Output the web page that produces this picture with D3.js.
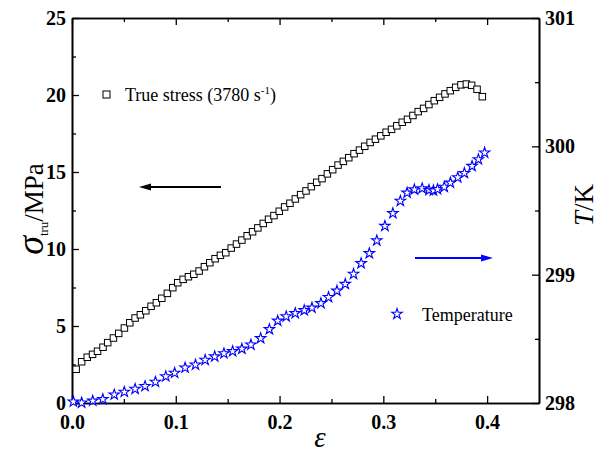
<!DOCTYPE html>
<html><head><meta charset="utf-8">
<script src="https://cdn.jsdelivr.net/npm/d3@7/dist/d3.min.js"></script>
<style>body{margin:0;background:#fff}svg{display:block}</style></head>
<body><svg id="c" width="602" height="454"></svg>
<script>
// True stress (squares)
const strain = [0.004,0.0093,0.0147,0.0198,0.0246,0.0299,0.0344,0.0399,0.045,0.0505,0.0557,0.0608,0.0659,0.0711,0.0762,0.0813,0.0865,0.0919,0.0971,0.1019,0.1071,0.1122,0.1174,0.1225,0.1276,0.1328,0.1379,0.143,0.1482,0.1534,0.1585,0.1637,0.1688,0.174,0.1791,0.1843,0.1894,0.1946,0.1997,0.2049,0.21,0.2152,0.2203,0.2255,0.2306,0.2358,0.2409,0.2461,0.2512,0.2564,0.2615,0.2667,0.2718,0.277,0.2821,0.2873,0.2924,0.2976,0.3027,0.3079,0.313,0.3182,0.3233,0.3285,0.3336,0.3388,0.3439,0.3491,0.3542,0.3594,0.3645,0.3697,0.3748,0.38,0.3851,0.3903,0.3954];
const stress = [2.19,2.68,2.97,3.16,3.36,3.62,3.92,4.22,4.52,4.87,5.21,5.52,5.73,5.99,6.28,6.51,6.8,7.12,7.49,7.81,8.03,8.2,8.36,8.57,8.85,9.11,9.37,9.59,9.76,10.06,10.32,10.58,10.86,11.12,11.37,11.66,11.93,12.17,12.45,12.73,12.97,13.25,13.53,13.77,14.05,14.33,14.57,14.88,15.15,15.45,15.69,15.93,16.19,16.42,16.67,16.92,17.13,17.35,17.58,17.77,18.0,18.23,18.42,18.67,18.92,19.13,19.38,19.63,19.85,20.07,20.28,20.5,20.66,20.71,20.63,20.37,19.89];
// Temperature (stars)
const tStrain = [0.0013,0.0093,0.02,0.0297,0.0407,0.0504,0.0608,0.0704,0.0804,0.0904,0.0989,0.109,0.119,0.1283,0.1375,0.1464,0.1548,0.1637,0.1724,0.1818,0.1902,0.1982,0.2064,0.2151,0.2238,0.2312,0.2399,0.2472,0.2553,0.2633,0.2713,0.2786,0.2865,0.2937,0.3015,0.3092,0.3164,0.3229,0.3299,0.3374,0.344,0.3483,0.3522,0.3587,0.3646,0.3717,0.3781,0.3855,0.3916,0.3976];
const temperature = [298.01,298.002,298.017,298.029,298.065,298.086,298.109,298.131,298.164,298.207,298.234,298.275,298.298,298.335,298.362,298.386,298.403,298.422,298.454,298.504,298.574,298.64,298.674,298.699,298.722,298.742,298.777,298.824,298.874,298.927,299.005,299.088,299.166,299.266,299.379,299.478,299.574,299.638,299.663,299.672,299.659,299.655,299.665,299.683,299.716,299.757,299.791,299.846,299.898,299.95];
const xTicks = [0,0.1,0.2,0.3,0.4];
const xMinor = [0.05,0.15,0.25,0.35];
const yTicks = [0,5,10,15,20,25];
const yMinor = [2.5,7.5,12.5,17.5,22.5];
const y2Ticks = [298,299,300,301];
const y2Minor = [298.5,299.5,300.5];

const L=72,R=539,T=18,B=403;
const svg=d3.select('#c');
const x=d3.scaleLinear().domain([0,0.45]).range([L,R]);
const y=d3.scaleLinear().domain([0,25]).range([B,T]);
const y2=d3.scaleLinear().domain([298,301]).range([B,T]);
const font='"Liberation Serif","Times New Roman",serif';

function styleAxis(g){
  g.selectAll('path').attr('stroke','#000').attr('stroke-width',1.6);
  g.selectAll('line').attr('stroke','#000').attr('stroke-width',1.3);
  g.selectAll('text').attr('font-family',font).attr('font-weight','bold').attr('font-size',20).attr('fill','#000');
}
// bottom
svg.append('g').attr('transform',`translate(0,${B})`).call(d3.axisBottom(x).tickValues(xMinor).tickFormat('').tickSize(-4).tickSizeOuter(0)).call(styleAxis);
svg.append('g').attr('transform',`translate(0,${B})`).call(d3.axisBottom(x).tickValues(xTicks).tickFormat(d3.format('.1f')).tickSize(-7).tickSizeOuter(0).tickPadding(12)).call(styleAxis);
// top
svg.append('g').attr('transform',`translate(0,${T})`).call(d3.axisTop(x).tickValues(xMinor).tickFormat('').tickSize(-4).tickSizeOuter(0)).call(styleAxis);
svg.append('g').attr('transform',`translate(0,${T})`).call(d3.axisTop(x).tickValues(xTicks).tickFormat('').tickSize(-7).tickSizeOuter(0)).call(styleAxis);
// left
svg.append('g').attr('transform',`translate(${L},0)`).call(d3.axisLeft(y).tickValues(yMinor).tickFormat('').tickSize(-4).tickSizeOuter(0)).call(styleAxis);
svg.append('g').attr('transform',`translate(${L},0)`).call(d3.axisLeft(y).tickValues(yTicks).tickFormat(d3.format('d')).tickSize(-7).tickSizeOuter(0).tickPadding(6)).call(styleAxis);
// right
svg.append('g').attr('transform',`translate(${R},0)`).call(d3.axisRight(y2).tickValues(y2Minor).tickFormat('').tickSize(-4).tickSizeOuter(0)).call(styleAxis);
svg.append('g').attr('transform',`translate(${R},0)`).call(d3.axisRight(y2).tickValues(y2Ticks).tickFormat(d3.format('d')).tickSize(-7).tickSizeOuter(0).tickPadding(6)).call(styleAxis);

// squares
const sq=6.5;
svg.append('g').selectAll('rect').data(strain).join('rect')
  .attr('x',(d,i)=>x(d)-sq/2).attr('y',(d,i)=>y(stress[i])-sq/2)
  .attr('width',sq).attr('height',sq).attr('fill','#fff').attr('stroke','#000').attr('stroke-width',1);
// stars
const star=d3.symbol().type(d3.symbolStar).size(34);
svg.append('g').selectAll('path').data(tStrain).join('path')
  .attr('transform',(d,i)=>`translate(${x(d)},${y2(temperature[i])})`)
  .attr('d',star).attr('fill','#fff').attr('stroke','#0000ff').attr('stroke-width',1.1);

// legends
svg.append('rect').attr('x',103).attr('y',91).attr('width',7).attr('height',7).attr('fill','#fff').attr('stroke','#000').attr('stroke-width',1);
const lt=svg.append('text').attr('x',125).attr('y',101).attr('font-family',font).attr('font-size',18).attr('fill','#000');
lt.append('tspan').text('True stress (3780 s');
lt.append('tspan').attr('font-size',11).attr('dy',-7).text('-1');
lt.append('tspan').attr('dy',7).text(')');
svg.append('path').attr('transform','translate(397,314)').attr('d',star).attr('fill','#fff').attr('stroke','#0000ff').attr('stroke-width',1.1);
svg.append('text').attr('x',422).attr('y',321).attr('font-family',font).attr('font-size',18).attr('fill','#000').text('Temperature');

// arrows
svg.append('line').attr('x1',221).attr('y1',187).attr('x2',148).attr('y2',187).attr('stroke','#000').attr('stroke-width',2);
svg.append('path').attr('d','M139,187 L151,183.5 L151,190.5 Z').attr('fill','#000');
svg.append('line').attr('x1',415).attr('y1',258).attr('x2',484).attr('y2',258).attr('stroke','#0000ff').attr('stroke-width',2);
svg.append('path').attr('d','M493,258 L481,254.5 L481,261.5 Z').attr('fill','#0000ff');

// axis titles
const yt=svg.append('text').attr('transform','translate(43,209) rotate(-90)').attr('text-anchor','middle').attr('font-family',font).attr('fill','#000');
yt.append('tspan').attr('font-size',38).attr('font-style','italic').text('σ');
yt.append('tspan').attr('font-size',13).attr('dy',5).text('tru');
yt.append('tspan').attr('font-size',27).attr('dy',-5).text('/MPa');
const y2t=svg.append('text').attr('transform','translate(593,205) rotate(-90)').attr('text-anchor','middle').attr('font-family',font).attr('font-size',27).attr('fill','#000');
y2t.append('tspan').attr('font-style','italic').text('T');
y2t.append('tspan').text('/K');
svg.append('text').attr('x',320).attr('y',447).attr('text-anchor','middle').attr('font-family',font).attr('font-style','italic').attr('font-size',29).attr('fill','#000').text('ε');
</script></body></html>
